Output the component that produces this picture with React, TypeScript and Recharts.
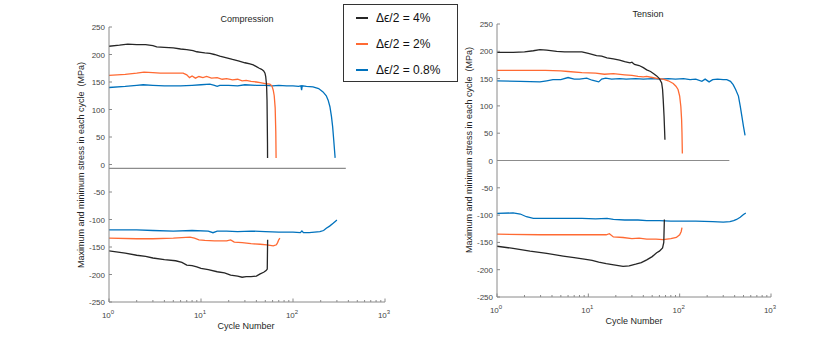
import React from "react";
import { LineChart, Line, XAxis, YAxis, ReferenceLine } from "recharts";

type Pt = { n: number; s: number };
const pts = (rows: number[][]): Pt[] => rows.map(([n, s]) => ({ n, s }));

// Compression: maximum stress per cycle
const compMax4 = pts([
  [1, 215], [1.3, 217], [1.6, 219], [2, 218], [2.5, 218], [3, 216], [3.3, 214], [4, 213],
  [5, 212], [6, 210], [7, 209], [8.2, 207], [9, 205], [10, 204], [11, 203], [12.5, 202],
  [14, 200], [16, 197], [19, 194], [22, 191], [26, 188], [30, 185], [34, 183], [37, 181],
  [40, 178], [43, 175], [45.6, 173], [48, 170], [49.6, 166], [50.5, 160], [51.2, 150],
  [51.7, 140], [52.2, 117], [52.5, 80], [52.8, 40], [52.9, 12],
]);
const compMax2 = pts([
  [1, 162], [1.5, 164], [2, 166], [2.4, 168], [3, 167], [3.6, 166], [4.5, 166], [5.5, 166],
  [6.4, 166], [7, 163], [7.5, 158], [8, 161], [8.7, 157], [9.5, 160], [10.5, 158],
  [11.5, 160], [13, 157], [15, 158], [17, 155], [19, 156], [22, 154], [25, 155], [28, 152],
  [31, 153], [35, 151], [40, 150], [44, 149], [50, 147], [56, 146], [59, 143], [61, 135],
  [62.5, 125], [64, 103], [65, 60], [65.5, 12],
]);
const compMax08 = pts([
  [1, 140], [1.5, 142], [2, 144], [2.35, 145], [3, 144], [4, 143], [6, 143], [8, 144],
  [10, 145], [12.5, 146], [14, 144], [15, 142], [16, 144], [20, 144], [25, 143], [30, 145],
  [40, 144], [50, 144], [60, 143], [70, 144], [85, 143], [100, 143], [115, 142], [122, 143],
  [124, 135], [126, 143], [140, 142], [165, 141], [190, 138], [212, 132], [230, 125],
  [241, 117], [252, 105], [262, 87], [270, 68], [277, 45], [283, 25], [287, 12],
]);
// Compression: minimum stress per cycle
const compMin4 = pts([
  [1, -157], [1.5, -161], [2, -165], [2.5, -167], [3, -170], [4, -173], [5.3, -175],
  [6.2, -178], [7, -183], [8, -184], [9, -186], [10, -189], [12, -191], [15, -195],
  [18, -197], [21, -201], [25, -203], [28, -205], [31, -204], [35, -204], [40, -203],
  [44, -199], [48, -196], [51, -193], [52.5, -190], [53, -137],
]);
const compMin2 = pts([
  [1, -134], [2, -135], [3, -135], [5, -134], [7.6, -132], [8.5, -134], [9.5, -137],
  [11, -138], [14, -139], [19, -139], [21, -137], [23, -141], [28, -142], [35, -144],
  [44, -145], [52, -146], [61, -148], [66, -146], [68, -142], [70, -137], [72, -134],
]);
const compMin08 = pts([
  [1, -119], [2, -119], [3, -120], [5, -121], [8, -120], [12, -121], [13.5, -124],
  [15, -121], [19, -121], [25, -122], [35, -121], [50, -122], [70, -123], [100, -123],
  [120, -124], [125, -121], [130, -124], [150, -124], [196, -122], [215, -120], [230, -116],
  [250, -112], [273, -107], [290, -103], [300, -101],
]);

// Tension: maximum stress per cycle
const tensMax4 = pts([
  [1, 198], [1.5, 198], [2, 199], [2.5, 201], [2.95, 203], [3.5, 202], [4.5, 200],
  [5.5, 199], [6.8, 199], [8.5, 199], [10, 196], [12.3, 192], [14, 191], [16, 188],
  [18.8, 186], [22, 184], [25, 181], [28.6, 179], [30, 180], [32, 176], [36, 174],
  [40, 170], [43.6, 166], [48, 163], [52, 159], [56, 155], [60, 150], [63.5, 142],
  [65, 130], [66, 112], [67.5, 80], [69, 38],
]);
const tensMax2 = pts([
  [1, 165], [2, 165], [3.4, 165], [5, 164], [6, 163], [8.5, 161], [12, 160], [15, 158],
  [18.8, 159], [25, 157], [30, 156], [35, 154], [40, 153], [43.6, 154], [50, 152],
  [58, 150], [66, 149], [75, 146], [85, 141], [91, 136], [96, 130], [100, 118], [103, 99],
  [105, 75], [106, 51], [107, 13],
]);
const tensMax08 = pts([
  [1, 146], [1.8, 145], [2.95, 144], [3.5, 146], [4.1, 148], [5, 148], [6, 152], [7, 149],
  [8, 149], [9.6, 151], [11, 147], [13, 144], [14, 149], [15.5, 151], [18, 149], [22, 150],
  [26, 149], [33, 150], [40, 149], [50, 150], [60, 149], [75, 150], [90, 149], [110, 150],
  [130, 148], [150, 149], [175, 145], [190, 149], [210, 144], [230, 148], [260, 149],
  [300, 148], [328, 148], [360, 145], [385, 139], [410, 130], [440, 118], [460, 100],
  [480, 81], [500, 62], [520, 46],
]);
// Tension: minimum stress per cycle
const tensMin4 = pts([
  [1, -157], [1.5, -161], [2.3, -166], [3.5, -170], [5.3, -175], [7, -178], [9.4, -181],
  [11, -183], [13, -186], [15.7, -189], [19, -191], [24, -194], [28, -193], [33, -190],
  [38, -187], [43.6, -182], [50, -176], [56, -169], [60, -166], [65, -160], [67, -150],
  [68, -108],
]);
const tensMin2 = pts([
  [1, -135], [3, -136], [6, -136], [10, -136], [15.7, -136], [17, -134], [18.8, -140],
  [24, -141], [30, -143], [36, -142], [43.6, -144], [55, -144], [66, -145], [80, -143],
  [92, -141], [100, -136], [104, -130], [106, -123],
]);
const tensMin08 = pts([
  [1, -97], [1.5, -96], [1.8, -98], [2.1, -103], [2.5, -106], [4, -106], [6, -106],
  [8.5, -106], [12, -107], [16, -106], [18.8, -108], [25, -109], [35, -109], [43.6, -110],
  [60, -110], [80, -111], [100, -111], [150, -111], [230, -112], [300, -113], [355, -112],
  [390, -110], [420, -108], [460, -104], [500, -99], [530, -96],
]);

const xTicks = [
  1, 2, 3, 4, 5, 6, 7, 8, 9, 10, 20, 30, 40, 50, 60, 70, 80, 90,
  100, 200, 300, 400, 500, 600, 700, 800, 900, 1000,
];
const yTicks = [-250, -200, -150, -100, -50, 0, 50, 100, 150, 200, 250];
const legendLabels = ["Δϵ/2 = 4%", "Δϵ/2 = 2%", "Δϵ/2 = 0.8%"];

const BLACK = "#262626";
const ORANGE = "#ff6a33";
const BLUE = "#0072bd";
const AXIS = "#8a8a8a";
const FONT = "'Liberation Sans', Arial, Helvetica, sans-serif";

const XTick = (p: any) => {
  const v = p.payload.value;
  const major = [1, 10, 100, 1000].includes(v);
  return (
    <g>
      <line x1={p.x} x2={p.x} y1={p.y} y2={p.y - (major ? 3.5 : 2)} stroke={AXIS} />
      {major && (
        <text x={p.x - 1} y={p.y + 16} textAnchor="middle" fontSize={8} fill="#444" fontFamily={FONT}>
          10
          <tspan dy={-4} fontSize={6}>
            {Math.round(Math.log10(v))}
          </tspan>
        </text>
      )}
    </g>
  );
};

const YTick = (p: any) => (
  <g>
    <line x1={p.x} x2={p.x + 3} y1={p.y} y2={p.y} stroke={AXIS} />
    <text x={p.x - 4} y={p.y + 3} textAnchor="end" fontSize={8} fill="#444" fontFamily={FONT}>
      {p.payload.value}
    </text>
  </g>
);

type PanelProps = {
  series: { data: Pt[]; color: string }[];
  zeroLine: { y: number; end: number };
  margin: { top: number; left: number; right: number; bottom: number };
};

function Panel({ series, zeroLine, margin }: PanelProps) {
  return (
    <LineChart width={415} height={359} margin={margin}>
      <XAxis
        dataKey="n"
        type="number"
        scale="log"
        domain={[1, 1000]}
        allowDataOverflow
        ticks={xTicks}
        interval={0}
        height={1}
        tickSize={0}
        tickMargin={0}
        tickLine={false}
        tick={XTick}
        stroke={AXIS}
      />
      <YAxis
        dataKey="s"
        type="number"
        domain={[-250, 250]}
        ticks={yTicks}
        interval={0}
        width={1}
        tickSize={0}
        tickMargin={0}
        tickLine={false}
        tick={YTick}
        stroke={AXIS}
      />
      <ReferenceLine
        segment={[
          { x: 1, y: zeroLine.y },
          { x: zeroLine.end, y: zeroLine.y },
        ]}
        stroke="#8c8c8c"
        strokeWidth={1.2}
      />
      {series.map((sr, i) => (
        <Line
          key={i}
          data={sr.data}
          dataKey="s"
          stroke={sr.color}
          strokeWidth={1.3}
          dot={false}
          activeDot={false}
          type="linear"
          isAnimationActive={false}
        />
      ))}
    </LineChart>
  );
}

const txt = (extra: React.CSSProperties): React.CSSProperties => ({
  position: "absolute",
  fontFamily: FONT,
  color: "#262626",
  whiteSpace: "nowrap",
  lineHeight: 1,
  ...extra,
});

export default function App() {
  const compSeries = [
    { data: compMax08, color: BLUE },
    { data: compMin08, color: BLUE },
    { data: compMax2, color: ORANGE },
    { data: compMin2, color: ORANGE },
    { data: compMax4, color: BLACK },
    { data: compMin4, color: BLACK },
  ];
  const tensSeries = [
    { data: tensMax08, color: BLUE },
    { data: tensMin08, color: BLUE },
    { data: tensMax2, color: ORANGE },
    { data: tensMin2, color: ORANGE },
    { data: tensMax4, color: BLACK },
    { data: tensMin4, color: BLACK },
  ];
  const legendColors = [BLACK, ORANGE, BLUE];

  return (
    <div style={{ position: "absolute", left: 0, top: 0, width: 830, height: 359, background: "#fff", fontFamily: FONT }}>
      <div style={{ position: "absolute", left: 0, top: 0 }}>
        <Panel
          series={compSeries}
          zeroLine={{ y: -7, end: 375 }}
          margin={{ top: 27, left: 108, right: 30, bottom: 56 }}
        />
      </div>
      <div style={{ position: "absolute", left: 415, top: 0 }}>
        <Panel
          series={tensSeries}
          zeroLine={{ y: 0, end: 350 }}
          margin={{ top: 24, left: 81, right: 59, bottom: 61 }}
        />
      </div>

      <div style={txt({ left: 247, top: 15, fontSize: 9, transform: "translateX(-50%)" })}>Compression</div>
      <div style={txt({ left: 648, top: 10, fontSize: 9, transform: "translateX(-50%)" })}>Tension</div>
      <div style={txt({ left: 246, top: 322, fontSize: 9, transform: "translateX(-50%)" })}>Cycle Number</div>
      <div style={txt({ left: 634, top: 317, fontSize: 9, transform: "translateX(-50%)" })}>Cycle Number</div>
      <div style={txt({ left: 81, top: 165, fontSize: 9, transform: "translate(-50%, -50%) rotate(-90deg)" })}>
        Maximum and minimum stress in each cycle&nbsp;&nbsp;(MPa)
      </div>
      <div style={txt({ left: 469, top: 150, fontSize: 9, transform: "translate(-50%, -50%) rotate(-90deg)" })}>
        Maximum and minimum stress in each cycle&nbsp;&nbsp;(MPa)
      </div>

      <div
        style={{
          position: "absolute",
          left: 343,
          top: 4,
          width: 113,
          height: 76,
          border: "1px solid #333",
          background: "#fff",
        }}
      >
        {legendLabels.map((label, i) => (
          <div key={label} style={{ position: "absolute", left: 12, top: 6 + i * 26, height: 14, display: "flex", alignItems: "center" }}>
            <div style={{ width: 12, height: 2.5, background: legendColors[i] }} />
            <span style={{ marginLeft: 8, fontSize: 12, color: "#111", fontFamily: FONT }}>{label}</span>
          </div>
        ))}
      </div>
    </div>
  );
}
